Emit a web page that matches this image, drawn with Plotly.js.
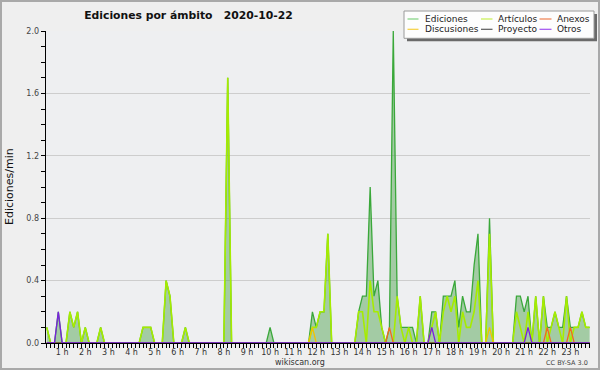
<!DOCTYPE html>
<html><head><meta charset="utf-8">
<script src="https://cdn.plot.ly/plotly-3.0.1.min.js"></script>
<style>
html,body{margin:0;padding:0;background:#efefef;}
#wrap{position:relative;width:600px;height:370px;}
#chart{width:600px;height:370px;}
#frame{position:absolute;left:0;top:0;width:600px;height:370px;box-sizing:border-box;border:2px solid #a9a9a9;pointer-events:none;}
</style></head><body>
<div id="wrap"><div id="chart"></div><div id="frame"></div></div>
<script>
// 10-minute slots, first slot at 00:20, values in edits per minute
const slotStartMinutes = 20;
const slotMinutes = 10;

const ediciones = [
  0.1,0,0,0.2,0,0,0.2,0.1,0.2,0,0.1,0,
  0,0,0.1,0,0,0,0,0,0,0,0,0,
  0,0.1,0.1,0.1,0,0,0,0.4,0.3,0,0,0,
  0.1,0,0,0,0,0,0,0,0,0,0,1.7,
  0,0,0,0,0,0,0,0,0,0,0.1,0,
  0,0,0,0,0,0,0,0,0,0.2,0.1,0.2,
  0.2,0.7,0,0,0,0,0,0,0,0.2,0.3,0.3,
  1.0,0.3,0.4,0.1,0,0.1,2.0,0.3,0.1,0.1,0.1,0.1,
  0,0.3,0,0,0.2,0.2,0,0.3,0.3,0.3,0.4,0.1,
  0.3,0.2,0.2,0.5,0.7,0,0,0.8,0,0,0,0,
  0,0,0.3,0.3,0.2,0.3,0,0.3,0,0.3,0.1,0.1,
  0.2,0.1,0.1,0.3,0.1,0.1,0.1,0.2,0.1,0.1
];
const articulos = [
  0.1,0,0,0,0,0,0.2,0.1,0.2,0,0.1,0,
  0,0,0.1,0,0,0,0,0,0,0,0,0,
  0,0.1,0.1,0.1,0,0,0,0.4,0.3,0,0,0,
  0.1,0,0,0,0,0,0,0,0,0,0,1.7,
  0,0,0,0,0,0,0,0,0,0,0,0,
  0,0,0,0,0,0,0,0,0,0.1,0.1,0.2,
  0.2,0.7,0,0,0,0,0,0,0,0.2,0.2,0,
  0.4,0.2,0.2,0.1,0,0,0,0.3,0.1,0,0.1,0,
  0,0.3,0,0,0.1,0.2,0,0.2,0.3,0.2,0.3,0,
  0.2,0.1,0.1,0.2,0.4,0,0,0.7,0,0,0,0,
  0,0,0.2,0.1,0,0.2,0,0.3,0,0.3,0,0.1,
  0.2,0.1,0,0.3,0,0.1,0.1,0.2,0.1,0.1
];
const anexos = [
  0,0,0,0,0,0,0,0,0,0,0,0,
  0,0,0,0,0,0,0,0,0,0,0,0,
  0,0,0,0,0,0,0,0,0,0,0,0,
  0,0,0,0,0,0,0,0,0,0,0,0,
  0,0,0,0,0,0,0,0,0,0,0,0,
  0,0,0,0,0,0,0,0,0,0,0,0,
  0,0,0,0,0,0,0,0,0,0,0,0,
  0,0,0,0,0,0.1,0,0,0,0,0,0,
  0,0,0,0,0,0,0,0,0,0,0,0,
  0,0,0,0,0,0,0,0,0,0,0,0,
  0,0,0,0,0,0,0,0,0,0,0.1,0,
  0,0,0,0,0.1,0,0,0,0,0
];
const discusiones = [
  0,0,0,0,0,0,0,0,0,0,0,0,
  0,0,0,0,0,0,0,0,0,0,0,0,
  0,0,0,0,0,0,0,0,0,0,0,0,
  0,0,0,0,0,0,0,0,0,0,0,0,
  0,0,0,0,0,0,0,0,0,0,0,0,
  0,0,0,0,0,0,0,0,0,0.1,0,0,
  0,0,0,0,0,0,0,0,0,0,0,0,
  0,0,0,0,0,0,0,0,0,0,0,0,
  0,0,0,0,0,0,0,0,0,0,0,0,
  0,0,0,0,0,0,0,0.1,0,0,0,0,
  0,0,0,0,0,0,0,0,0,0,0,0,
  0,0,0,0,0,0,0,0,0,0
];
const proyecto = [
  0,0,0,0,0,0,0,0,0,0,0,0,
  0,0,0,0,0,0,0,0,0,0,0,0,
  0,0,0,0,0,0,0,0,0,0,0,0,
  0,0,0,0,0,0,0,0,0,0,0,0,
  0,0,0,0,0,0,0,0,0,0,0,0,
  0,0,0,0,0,0,0,0,0,0,0,0,
  0,0,0,0,0,0,0,0,0,0,0,0,
  0,0,0,0,0,0,0,0,0,0,0,0,
  0,0,0,0,0,0,0,0,0,0,0,0,
  0,0,0,0,0,0,0,0,0,0,0,0,
  0,0,0,0,0,0,0,0,0,0,0,0,
  0,0,0,0,0,0,0,0,0,0
];
const otros = [
  0,0,0,0.2,0,0,0,0,0,0,0,0,
  0,0,0,0,0,0,0,0,0,0,0,0,
  0,0,0,0,0,0,0,0,0,0,0,0,
  0,0,0,0,0,0,0,0,0,0,0,0,
  0,0,0,0,0,0,0,0,0,0,0,0,
  0,0,0,0,0,0,0,0,0,0,0,0,
  0,0,0,0,0,0,0,0,0,0,0,0,
  0,0,0,0,0,0,0,0,0,0,0,0,
  0,0,0,0,0.1,0,0,0,0,0,0,0,
  0,0,0,0,0,0,0,0,0,0,0,0,
  0,0,0,0,0,0.1,0,0,0,0,0,0,
  0,0,0,0,0,0,0,0,0,0
];

const hourTicks = [1,2,3,4,5,6,7,8,9,10,11,12,13,14,15,16,17,18,19,20,21,22,23];
const hourLabels = hourTicks.map(h => h + ' h');
const chartTitle = 'Ediciones por ámbito\u00a0\u00a0\u00a02020-10-22';
const yTitle = 'Ediciones/min';
const seriesNames = ['Ediciones','Artículos','Anexos','Discusiones','Proyecto','Otros'];

const times = ediciones.map((_, i) => (slotStartMinutes + slotMinutes * i) / 60);

// plot area in pixels
const L = 46, R = 590, T = 31, B = 343;
const px = x => (x - L) / (R - L);
const py = y => (B - y) / (B - T);

const FONT = 'DejaVu Sans';
const colors = {
  total: '#3aa83a', totalFill: 'rgba(70,160,70,0.45)',
  art: '#a6ec00', anx: '#f26b1d', disc: '#f2c300', proy: '#555555', otros: '#7a1fe0'
};
const legendColors = ['#7fd27f', '#c8f050', '#f08050', '#f5d040', '#5a5a5a', '#a050f0'];

function line(y, name, color, w, extra) {
  return Object.assign({x: times, y: y, name: name, type: 'scatter', mode: 'lines',
    line: {color: color, width: w}, showlegend: false, hoverinfo: 'skip'}, extra || {});
}

const data = [
  line(ediciones, seriesNames[0], colors.total, 1.3, {fill: 'tozeroy', fillcolor: colors.totalFill}),
  line(articulos, seriesNames[1], colors.art, 1.6),
  line(anexos, seriesNames[2], colors.anx, 1.3),
  line(discusiones, seriesNames[3], colors.disc, 1.3),
  line(proyecto, seriesNames[4], colors.proy, 1.3),
  line(otros, seriesNames[5], colors.otros, 1.3)
];

// legend (drawn as box + samples + text)
const shapes = [
  {type:'rect', xref:'paper', yref:'paper', x0:px(407), x1:px(597), y0:py(41.3), y1:py(14), fillcolor:'#6a6a6a', line:{width:0}, layer:'above'},
  {type:'rect', xref:'paper', yref:'paper', x0:px(404), x1:px(594), y0:py(38.3), y1:py(11), fillcolor:'#fdfdfd', line:{color:'#9a9a9a', width:1}, layer:'above'}
];
const legCols = [[407.5, 418.5, 424], [481, 492.5, 497], [539.5, 551.5, 556]];
const legRows = [19, 29.3];
const legOrder = [[0, 1, 2], [3, 4, 5]];
const annotations = [];
legOrder.forEach((row, r) => row.forEach((si, c) => {
  const [a, b, tx] = legCols[c];
  shapes.push({type:'line', xref:'paper', yref:'paper', x0:px(a), x1:px(b), y0:py(legRows[r]), y1:py(legRows[r]),
    line:{color: legendColors[si], width:1.2}, layer:'above'});
  annotations.push({xref:'paper', yref:'paper', x:px(tx - 1), y:py(legRows[r]), xanchor:'left', yanchor:'middle',
    text: seriesNames[si], showarrow:false, font:{family:FONT, size:9, color:'#222'}});
}));
annotations.push({xref:'paper', yref:'paper', x:px(9), y:py(187), textangle:-90, xanchor:'center', yanchor:'middle',
  text: yTitle, showarrow:false, font:{family:FONT, size:11, color:'#111'}});
annotations.push({xref:'paper', yref:'paper', x:px(300), y:py(362.5), xanchor:'center', yanchor:'middle',
  text:'wikiscan.org', showarrow:false, font:{family:FONT, size:8, color:'#333'}});
annotations.push({xref:'paper', yref:'paper', x:px(590), y:py(363), xanchor:'right', yanchor:'middle',
  text:'CC BY-SA 3.0', showarrow:false, font:{family:FONT, size:6.5, color:'#444'}});

const layout = {
  width: 600, height: 370,
  margin: {l: L, r: 600 - R, t: T, b: 370 - B, pad: 0},
  paper_bgcolor: '#efefef', plot_bgcolor: '#eeeff1',
  title: {text: chartTitle, xref:'container', yref:'container', x: 188.5/600, xanchor:'center', y: 1 - 15/370, yanchor:'middle',
    font: {family: FONT, size: 10.8, weight: 'bold', color: '#111'}},
  showlegend: false,
  xaxis: {
    range: [(slotStartMinutes - 0.2*slotMinutes)/60, (slotStartMinutes + 141.1*slotMinutes)/60],
    tickmode: 'array', tickvals: hourTicks, ticktext: hourLabels,
    ticks: 'outside', ticklen: 4, tickwidth: 1, tickcolor: '#000', ticklabelstandoff: -3,
    minor: {dtick: 1/6, tick0: 0, ticks: 'outside', ticklen: 4, tickwidth: 1, tickcolor: '#000', showgrid: false},
    showgrid: false, zeroline: false, showline: true, linecolor: '#000', linewidth: 1.3,
    tickfont: {family: FONT, size: 8, color: '#333'}, fixedrange: true
  },
  yaxis: {
    range: [0, 2], dtick: 0.4, tick0: 0, tickformat: '.1f',
    ticks: 'outside', ticklen: 4, tickwidth: 1, tickcolor: '#000',
    minor: {dtick: 0.1, tick0: 0, ticks: 'outside', ticklen: 4, tickwidth: 1, tickcolor: '#000', showgrid: false},
    showgrid: true, gridcolor: '#cdcdcd', gridwidth: 1, zeroline: false,
    showline: true, linecolor: '#000', linewidth: 1.3,
    tickfont: {family: FONT, size: 8, color: '#444'}, fixedrange: true
  },
  shapes: shapes,
  annotations: annotations
};

Plotly.newPlot('chart', data, layout, {staticPlot: true, displayModeBar: false});
</script>
</body></html>
